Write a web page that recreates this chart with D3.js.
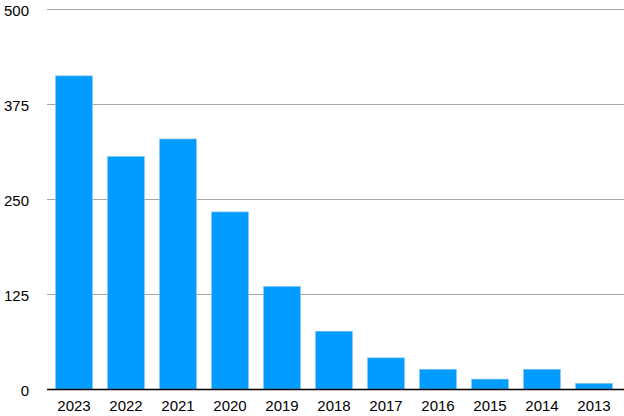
<!DOCTYPE html>
<html><head><meta charset="utf-8">
<script src="https://cdn.jsdelivr.net/npm/d3@7"></script>
<style>body{margin:0;background:#fff}svg{display:block}text{font-family:"Liberation Sans",Arial,Helvetica,sans-serif}</style>
</head><body><svg id="c" width="624" height="416"></svg>
<script>
const categories = ["2023","2022","2021","2020","2019","2018","2017","2016","2015","2014","2013"];
const values = [412, 306, 329, 233, 135, 76, 41, 26, 13, 26, 7.5];
const yTicks = [0, 125, 250, 375, 500];

const svg = d3.select("#c");
const x = d3.scaleBand().domain(categories).range([48, 620]).paddingInner(0.29).paddingOuter(0.145);
const y = d3.scaleLinear().domain([0, 500]).range([389, 9]);

// gridlines
svg.append("g").selectAll("line").data(yTicks.filter(d => d > 0)).join("line")
  .attr("x1", 47).attr("x2", 624)
  .attr("y1", d => y(d) + 0.5).attr("y2", d => y(d) + 0.5)
  .attr("stroke", "#a6a6a6").attr("stroke-width", 1);

// bars
svg.append("g").selectAll("rect").data(values).join("rect")
  .attr("x", (d, i) => x(categories[i]))
  .attr("y", d => y(d))
  .attr("width", x.bandwidth())
  .attr("height", d => y(0) - y(d))
  .attr("fill", "#009cff")
  .attr("stroke", "#8cc8f0").attr("stroke-width", 0.6);

// baseline
svg.append("line").attr("x1", 47).attr("x2", 624)
  .attr("y1", y(0) + 0.5).attr("y2", y(0) + 0.5)
  .attr("stroke", "#000").attr("stroke-width", 1.5);

// y labels
svg.append("g").selectAll("text").data(yTicks).join("text")
  .attr("x", 29).attr("y", d => y(d) + 7)
  .attr("text-anchor", "end").attr("font-size", 15).attr("fill", "#000")
  .text(d => d);

// x labels
svg.append("g").selectAll("text").data(categories).join("text")
  .attr("x", d => x(d) + x.bandwidth() / 2).attr("y", 411)
  .attr("text-anchor", "middle").attr("font-size", 15).attr("fill", "#000")
  .text(d => d);
</script></body></html>
